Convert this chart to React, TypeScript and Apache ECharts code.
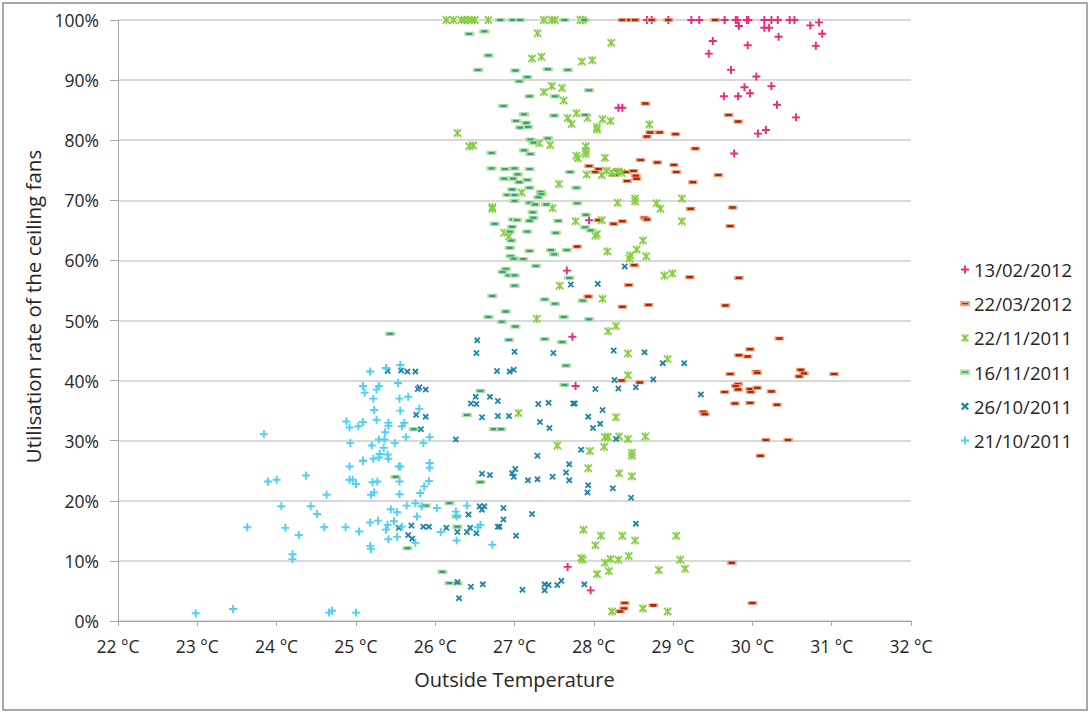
import React, { useEffect, useRef } from 'react';
import * as echarts from 'echarts';

const seriesNames = ['13/02/2012', '22/03/2012', '22/11/2011', '16/11/2011', '26/10/2011', '21/10/2011'];

const xTickLabels = [22, 23, 24, 25, 26, 27, 28, 29, 30, 31, 32];
const yTickLabels = [0, 10, 20, 30, 40, 50, 60, 70, 80, 90, 100];

// 13/02/2012
const feb13 = [
  [28.67, 100], [28.73, 100], [28.94, 100], [29.23, 100], [29.33, 100], [29.65, 100], [29.79, 100], [29.81, 100],
  [29.93, 100], [29.95, 100], [30.15, 100], [30.24, 100], [30.32, 100], [30.47, 100], [30.53, 100],
  [29.83, 99.0], [30.15, 98.7], [30.21, 98.7], [30.73, 99.1], [30.84, 99.6], [30.88, 97.7], [30.33, 97.2],
  [29.5, 96.5], [29.94, 95.8], [30.8, 95.7], [29.45, 94.4], [29.73, 91.7], [30.05, 90.6], [30.24, 89.0],
  [29.9, 88.8], [29.64, 87.3], [29.82, 87.3], [29.97, 87.8], [30.31, 85.9], [30.55, 83.8], [30.07, 81.1],
  [30.17, 81.7], [29.77, 77.8], [28.31, 85.4], [28.36, 85.4], [27.94, 66.7], [27.66, 58.3], [27.73, 47.3],
  [27.77, 39.1], [27.67, 9.0], [27.96, 5.1],
];

// 22/03/2012
const mar22 = [
  [28.36, 100], [28.46, 100], [28.52, 100], [28.73, 100], [28.94, 100], [29.53, 100],
  [28.65, 86.1], [28.71, 81.3], [28.83, 81.3], [29.03, 81.0], [28.67, 80.6], [29.28, 78.6], [28.59, 76.7],
  [28.8, 76.3], [29.01, 75.9], [29.04, 74.7], [29.57, 74.2], [29.25, 73.0], [27.94, 75.7], [28.06, 75.2],
  [28.02, 74.7], [28.3, 75.0], [28.41, 74.7], [28.5, 74.9], [28.26, 74.2], [28.53, 74.1], [28.54, 73.6],
  [28.42, 73.2], [29.7, 84.2], [29.82, 83.1],
  [29.75, 68.8], [29.72, 65.7], [29.83, 57.1], [29.66, 52.5], [30.34, 47.0], [29.97, 45.2], [29.83, 44.2],
  [29.94, 44.0], [29.72, 41.1], [30.05, 41.5], [30.06, 41.3], [30.61, 41.8], [30.65, 41.2], [30.59, 40.7],
  [31.03, 41.1], [29.82, 39.4], [29.79, 39.1], [29.82, 38.5], [29.97, 38.6], [29.98, 38.1], [30.06, 38.8],
  [29.65, 38.1], [30.24, 38.2], [29.78, 36.2], [29.97, 36.3], [30.31, 36.0], [29.38, 34.8], [29.4, 34.4],
  [30.17, 30.1], [30.45, 30.1], [30.1, 27.5],
  [28.06, 66.7], [28.25, 66.1], [28.36, 66.5], [28.64, 67.1], [28.67, 66.8], [29.22, 68.6], [27.79, 62.3],
  [28.51, 59.2], [29.21, 57.2], [28.44, 55.9], [27.93, 54.0], [28.36, 52.3], [28.69, 52.6], [28.35, 40.0],
  [28.58, 39.7], [28.39, 3.0], [28.38, 2.1], [28.33, 1.6], [28.75, 2.6], [29.74, 9.7], [30.0, 3.0],
];

// 22/11/2011
const nov22 = [
  [26.14, 100], [26.23, 100], [26.33, 100], [26.37, 100], [26.42, 100], [26.46, 100], [26.5, 100], [26.67, 100],
  [27.37, 100], [27.47, 100], [27.51, 100], [27.83, 100], [27.86, 100],
  [27.29, 97.8], [28.22, 96.2], [27.22, 93.6], [27.34, 93.9], [27.85, 93.1], [27.98, 93.3], [27.47, 89.0],
  [27.6, 88.7], [27.37, 88.0], [27.62, 86.6], [27.67, 83.7], [27.78, 84.5], [27.72, 82.7], [27.92, 83.7],
  [28.11, 83.5], [28.21, 83.2], [28.04, 82.2], [28.04, 81.8], [28.7, 82.6], [26.28, 81.2], [26.43, 79.0],
  [26.48, 79.1], [27.31, 79.5], [27.45, 79.2], [27.9, 79.0], [27.9, 78.2], [27.9, 77.7], [27.78, 77.4],
  [27.8, 77.0], [28.14, 77.1], [27.91, 74.3], [28.1, 74.2], [28.16, 74.9], [28.23, 74.6], [28.31, 74.8],
  [28.35, 74.6], [27.56, 72.7], [27.09, 71.3], [28.52, 70.3], [29.11, 70.3],
  [26.72, 68.6], [26.72, 68.9], [27.48, 68.7], [28.3, 69.6], [28.52, 69.8], [28.79, 69.5], [28.84, 68.6],
  [27.77, 66.5], [28.1, 66.7], [29.11, 66.5], [26.87, 64.6], [26.93, 64.0], [28.04, 64.4], [28.02, 64.1],
  [28.62, 63.3], [28.17, 61.5], [28.54, 61.8], [28.46, 60.8], [28.45, 60.3], [28.66, 60.7], [28.89, 57.5],
  [28.99, 57.8], [27.57, 55.8], [28.11, 53.6], [27.28, 50.3], [28.18, 48.2], [28.28, 49.1], [28.43, 44.5],
  [28.93, 43.6], [28.43, 40.9],
  [27.05, 34.6], [28.28, 33.9], [28.14, 30.6], [28.18, 30.6], [28.32, 30.7], [28.43, 30.3], [28.65, 30.7],
  [27.54, 29.2], [27.95, 28.3], [28.13, 29.0], [28.48, 28.0], [28.48, 27.5], [27.93, 25.4], [28.32, 24.6],
  [28.48, 24.1], [27.87, 15.2], [28.09, 14.2], [28.36, 14.2], [28.52, 13.4], [29.04, 14.2], [28.02, 12.6],
  [27.84, 10.5], [27.86, 10.2], [28.14, 9.7], [28.21, 10.3], [28.31, 10.2], [28.44, 10.8], [29.09, 10.2],
  [28.04, 7.8], [28.19, 8.3], [28.82, 8.5], [29.15, 8.7], [28.23, 1.6], [28.62, 2.1], [28.93, 1.6],
];

// 16/11/2011
const nov16 = [
  [26.82, 100], [26.98, 100], [27.07, 100], [27.63, 100], [27.88, 100], [26.43, 97.7], [26.62, 98.1],
  [26.67, 94.1], [26.54, 91.7], [27.01, 91.6], [27.42, 91.8], [27.67, 91.7], [27.16, 90.5], [27.06, 89.8],
  [27.94, 88.3], [27.19, 87.3], [27.51, 87.3], [26.86, 85.7], [27.12, 84.3], [27.5, 84.1], [27.89, 84.2],
  [27.02, 83.2], [27.15, 82.9], [27.07, 82.1], [27.17, 82.2], [27.2, 80.1], [27.42, 80.3], [27.24, 79.6],
  [26.71, 77.9], [27.12, 78.3], [27.2, 77.7], [26.71, 75.3], [26.88, 75.2], [27.0, 75.3], [27.19, 75.2],
  [27.7, 74.7], [27.04, 74.3], [26.87, 73.6], [26.98, 73.6], [27.16, 73.4], [27.06, 73.0], [27.33, 71.4],
  [27.19, 72.1], [26.97, 71.8], [27.78, 72.1], [26.91, 70.9], [27.0, 70.9], [27.34, 71.0], [27.3, 70.5],
  [27.0, 69.9], [27.19, 69.6], [27.26, 69.3], [27.4, 69.3], [27.79, 69.5], [27.23, 68.0], [27.24, 67.1],
  [27.19, 66.6], [26.98, 66.8], [27.03, 66.7], [27.9, 67.6], [27.55, 66.6], [26.75, 66.1], [26.97, 65.6],
  [26.94, 64.8], [27.16, 64.8], [27.52, 64.6], [27.89, 65.5], [27.96, 65.0], [26.96, 63.3], [26.94, 62.1],
  [27.19, 61.6], [27.46, 61.7], [27.5, 61.0], [27.66, 61.7], [26.95, 60.7], [26.99, 60.3], [27.11, 60.2],
  [27.27, 59.1], [26.89, 58.6], [26.85, 58.1], [26.93, 57.5], [27.0, 57.5], [27.69, 57.1], [27.0, 55.8],
  [26.72, 54.1], [27.38, 53.5], [27.51, 52.8], [27.86, 53.3], [26.89, 51.5], [26.67, 50.6], [26.84, 49.8],
  [27.62, 50.6], [27.94, 50.2], [27.01, 49.0], [26.93, 46.8], [27.38, 46.9], [27.6, 46.4], [27.65, 42.5],
  [27.63, 39.3], [26.57, 38.3],
  [26.4, 34.3], [26.74, 31.9], [26.83, 31.9], [26.57, 23.1], [26.18, 19.6], [25.88, 19.2], [26.27, 17.4],
  [26.28, 15.7], [26.09, 8.2], [26.18, 6.3], [26.28, 6.3], [25.43, 47.8], [25.73, 31.9], [25.5, 24.0],
  [25.65, 12.1],
];

// 26/10/2011
const oct26 = [
  [26.53, 46.7], [26.52, 44.6], [25.4, 41.6], [25.57, 41.7], [25.65, 41.5], [25.75, 41.5], [26.78, 41.6],
  [25.78, 38.6], [25.8, 38.9], [25.88, 38.5], [26.51, 37.3], [26.69, 37.3], [26.45, 36.2], [26.52, 36.1],
  [26.79, 36.6], [25.76, 34.3], [25.88, 34.0], [26.59, 33.9], [26.79, 34.1], [25.82, 31.9], [26.26, 30.2],
  [26.59, 24.5], [26.69, 24.3], [26.56, 19.1], [26.62, 19.1], [26.59, 18.5], [26.42, 17.7], [25.54, 15.5],
  [25.7, 15.9], [25.85, 15.7], [25.92, 15.7], [26.14, 15.5], [26.28, 14.8], [26.4, 14.8], [26.44, 15.5],
  [26.52, 14.6], [26.79, 15.7], [25.66, 14.3], [25.71, 13.7], [26.28, 6.5], [26.45, 5.7], [26.6, 6.1],
  [26.3, 3.8],
  [26.93, 34.1], [27.3, 36.1], [27.43, 36.3], [27.74, 36.2], [27.76, 36.2], [27.32, 33.1], [27.44, 32.1],
  [27.93, 34.0], [28.11, 35.1], [27.99, 32.1], [28.08, 32.8], [28.02, 38.6], [28.31, 38.7], [28.53, 38.9],
  [28.75, 40.2], [29.35, 37.7], [28.28, 30.3], [27.84, 28.5], [27.29, 27.5], [27.69, 26.1], [26.97, 24.6],
  [27.01, 25.3], [26.99, 24.0], [27.17, 23.4], [27.29, 23.6], [27.48, 24.0], [27.65, 24.7], [27.69, 23.4],
  [27.93, 22.6], [27.92, 21.4], [28.24, 22.1], [28.47, 20.5], [26.86, 18.8], [26.86, 16.9], [27.22, 17.8],
  [26.81, 15.7], [27.02, 14.2], [28.53, 16.2], [27.1, 5.2], [27.38, 6.1], [27.43, 6.0], [27.59, 6.7],
  [27.54, 6.0], [27.38, 5.1], [27.88, 6.1],
  [28.39, 59.0], [27.71, 56.0], [28.05, 56.1], [27.0, 44.8], [27.49, 44.6], [26.94, 41.5], [26.99, 41.8],
  [28.25, 45.0], [28.64, 44.7], [28.87, 42.9], [29.14, 42.9], [28.26, 40.1],
];

// 21/10/2011
const oct21 = [
  [25.56, 42.6], [25.38, 42.1], [25.18, 41.5], [25.53, 39.6], [25.09, 39.1], [25.29, 39.1], [25.26, 38.5],
  [25.11, 38.0], [25.22, 37.0], [25.55, 37.0], [25.66, 37.3], [25.8, 35.3], [25.56, 35.0], [25.23, 35.1],
  [24.88, 33.2], [24.92, 32.2], [25.03, 32.4], [25.09, 33.1], [25.26, 33.5], [25.41, 33.0], [25.41, 32.5],
  [25.58, 32.4], [25.61, 33.0], [25.37, 31.4], [25.63, 30.6], [25.93, 30.6], [25.85, 29.6], [24.93, 29.6],
  [25.2, 29.2], [25.29, 30.2], [25.36, 30.2], [25.35, 28.8], [25.49, 29.6],
  [23.89, 23.2], [24.0, 23.5], [24.37, 24.2], [24.92, 25.7], [24.92, 23.5], [24.96, 23.5], [25.0, 22.8],
  [25.21, 23.1], [25.27, 23.2], [25.09, 26.6], [25.09, 26.7], [25.22, 27.0], [25.29, 27.2], [25.3, 27.8],
  [25.4, 27.7], [25.41, 27.0], [25.54, 25.7], [25.56, 25.7], [25.93, 26.3], [25.93, 25.5], [25.92, 23.3],
  [25.86, 22.4], [25.55, 23.2], [25.81, 21.3], [25.55, 21.1], [25.19, 21.0], [25.23, 21.4], [24.63, 21.0],
  [23.84, 31.1],
  [24.06, 19.1], [24.43, 19.1], [24.51, 17.8], [23.63, 15.6], [24.11, 15.5], [24.28, 14.3], [24.6, 15.6],
  [24.87, 15.6], [25.04, 14.9], [25.18, 16.4], [25.28, 16.7], [25.38, 15.2], [25.4, 16.0], [25.48, 16.6],
  [25.52, 14.0], [25.41, 13.6], [25.18, 12.5], [25.19, 12.0], [24.2, 11.1], [24.2, 10.3], [23.45, 2.0],
  [24.66, 1.4], [24.7, 1.7], [25.0, 1.4], [22.98, 1.3],
  [25.44, 18.6], [25.52, 18.1], [25.64, 19.2], [25.75, 19.6], [25.83, 19.1], [25.77, 17.4], [26.02, 18.8],
  [26.4, 19.2], [26.26, 18.2], [26.27, 17.4], [26.07, 14.8], [26.27, 13.4], [26.72, 12.7], [25.75, 13.0],
  [25.58, 15.7], [26.54, 15.6], [26.57, 16.0],
];

const seriesData = [feb13, mar22, nov22, nov16, oct26, oct21];

const PLUS = 'path://M3.8,0H6.2V3.8H10V6.2H6.2V10H3.8V6.2H0V3.8H3.8Z';
const CROSS = 'path://M0,2L2,0L10,8L8,10Z M8,0L10,2L2,10L0,8Z';
const STAR = 'path://M0,1.5L1.5,0L10,8.5L8.5,10Z M8.5,0L10,1.5L1.5,10L0,8.5Z M4.2,0H5.8V10H4.2Z';
const DASH = 'path://M0,0H10V4H0Z';

const FONT = '"Open Sans", "Noto Sans", sans-serif';

const styles = [
  { symbol: PLUS, size: 8, color: '#EC2A7C', border: undefined as string | undefined, bw: 0 },
  { symbol: DASH, size: [8, 3.2], color: '#AE2800', border: '#F0A487', bw: 1.1 },
  { symbol: STAR, size: 8.5, color: '#86CF44', border: undefined, bw: 0 },
  { symbol: DASH, size: [8, 3.2], color: '#2E9E92', border: '#B3DF90', bw: 1.4 },
  { symbol: CROSS, size: 6.5, color: '#1B86A7', border: undefined, bw: 0 },
  { symbol: PLUS, size: 8, color: '#4FD0F4', border: undefined, bw: 0 },
];

export default function App() {
  const ref = useRef<HTMLDivElement>(null);
  useEffect(() => {
    if (!ref.current) return;
    const chart = echarts.init(ref.current, undefined, { renderer: 'svg' });
    const axisColor = '#a6a6a6';
    const textColor = '#262626';
    chart.setOption({
      animation: false,
      textStyle: { fontFamily: FONT },
      grid: { left: 118, right: 179, top: 20, bottom: 92, containLabel: false },
      xAxis: {
        type: 'value',
        min: xTickLabels[0],
        max: xTickLabels[xTickLabels.length - 1],
        interval: 1,
        axisLine: { show: true, onZero: false, lineStyle: { color: axisColor, width: 1 } },
        axisTick: { show: true, length: 5, lineStyle: { color: axisColor } },
        splitLine: { show: false },
        axisLabel: { formatter: '{value} °C', fontSize: 17.5, color: textColor, margin: 16, fontFamily: FONT },
        name: 'Outside Temperature',
        nameLocation: 'middle',
        nameGap: 48,
        nameTextStyle: { fontSize: 20, color: textColor, fontFamily: FONT },
      },
      yAxis: {
        type: 'value',
        min: yTickLabels[0],
        max: yTickLabels[yTickLabels.length - 1],
        interval: 10,
        axisLine: { show: true, lineStyle: { color: axisColor, width: 1 } },
        axisTick: { show: true, length: 8, lineStyle: { color: axisColor } },
        splitLine: { show: true, lineStyle: { color: '#cccccc', width: 1.5 } },
        axisLabel: { formatter: '{value}%', fontSize: 17.5, color: textColor, margin: 19, fontFamily: FONT },
        name: 'Utilisation rate of the ceiling fans',
        nameLocation: 'middle',
        nameGap: 73,
        nameTextStyle: { fontSize: 20.5, color: textColor, fontFamily: FONT, padding: [0, 0, 0, 28] },
      },
      legend: {
        orient: 'vertical',
        left: 955,
        top: 255,
        itemWidth: 8,
        itemHeight: 8,
        itemGap: 15.2,
        symbolKeepAspect: true,
        textStyle: { fontSize: 18.5, color: textColor, fontFamily: FONT },
        data: seriesNames,
      },
      series: seriesNames.map((name, i) => ({
        name,
        type: 'scatter',
        data: seriesData[i],
        symbol: styles[i].symbol,
        symbolSize: styles[i].size,
        itemStyle: {
          color: styles[i].color,
          borderColor: styles[i].border,
          borderWidth: styles[i].bw,
          opacity: 1,
        },
        z: 2 + i,
      })),
      graphic: [
        {
          type: 'rect',
          silent: true,
          shape: { x: 3, y: 3, width: 1084, height: 707 },
          style: { fill: 'none', stroke: '#8c8c8c', lineWidth: 1.5 },
        },
      ],
    });
    return () => chart.dispose();
  }, []);
  return <div ref={ref} style={{ position: 'absolute', left: 0, top: 0, width: 1090, height: 713 }} />;
}
